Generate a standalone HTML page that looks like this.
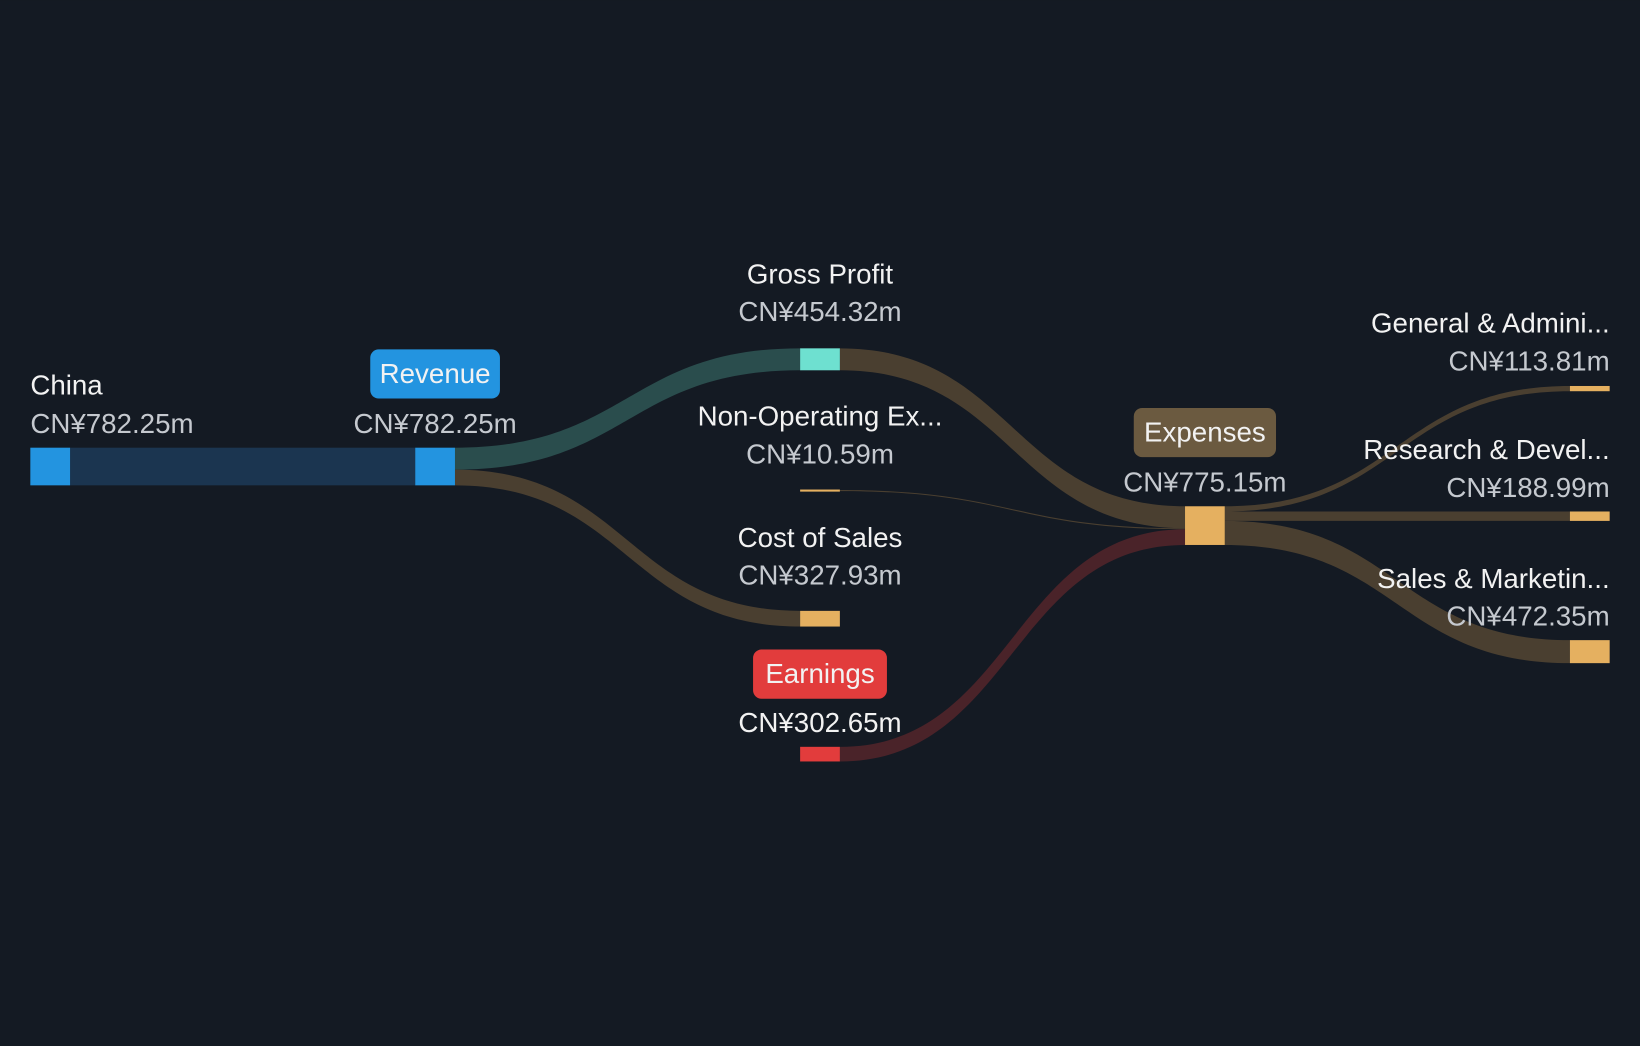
<!DOCTYPE html>
<html><head><meta charset="utf-8"><style>
html,body{margin:0;padding:0;background:#141a23;width:1640px;height:1046px;overflow:hidden}
svg{display:block}
text{font-family:"Liberation Sans",sans-serif;font-size:26.5px}
.l{fill:#f2f2f2}.v{fill:#c5c9cf}
</style></head><body>
<svg width="1640" height="1046" viewBox="0 0 1568 1000" xmlns="http://www.w3.org/2000/svg">
<rect width="1568" height="1000" fill="#141a23"/>
<rect x="67" y="428" width="330" height="36" fill="#1b3550"/>
<path d="M435,428 C600,428 600,333 765,333 L765,354 C600,354 600,449 435,449 Z" fill="#2a4d4d"/>
<path d="M435,449 C600,449 600,584 765,584 L765,599 C600,599 600,464 435,464 Z" fill="#4a3f30"/>
<path d="M803,333 C968,333 968,484 1133,484 L1133,505 C968,505 968,354 803,354 Z" fill="#4a3f30"/>
<path d="M803,468.5 C968,468.5 968,505 1133,505 L1133,506 C968,506 968,469.5 803,469.5 Z" fill="#4a3f30"/>
<path d="M803,714 C968,714 968,506 1133,506 L1133,521 C968,521 968,728 803,728 Z" fill="#4a2329"/>
<path d="M1171,484 C1336,484 1336,369 1501,369 L1501,374 C1336,374 1336,489 1171,489 Z" fill="#4a3f30"/>
<path d="M1171,489 L1501,489 L1501,498 L1171,498 Z" fill="#4a3f30"/>
<path d="M1171,498 C1336,498 1336,612 1501,612 L1501,634 C1336,634 1336,521 1171,521 Z" fill="#4a3f30"/>
<rect x="29" y="428" width="38" height="36" fill="#2394e0"/>
<rect x="397" y="428" width="38" height="36" fill="#2394e0"/>
<rect x="765" y="333" width="38" height="21" fill="#6ee0d0"/>
<rect x="765" y="468" width="38" height="2" fill="#e5b060"/>
<rect x="765" y="584" width="38" height="15" fill="#e5b060"/>
<rect x="765" y="714" width="38" height="14" fill="#e23c3c"/>
<rect x="1133" y="484" width="38" height="37" fill="#e5b060"/>
<rect x="1501" y="369" width="38" height="5" fill="#e5b060"/>
<rect x="1501" y="489" width="38" height="9" fill="#e5b060"/>
<rect x="1501" y="612" width="38" height="22" fill="#e5b060"/>
<rect x="354" y="334" width="124" height="47" rx="8" fill="#2394e0"/>
<rect x="720" y="621" width="128" height="47" rx="8" fill="#e23c3c"/>
<rect x="1084" y="390" width="136" height="47" rx="8" fill="#6b5a40"/>
<text class="l" x="29" y="377">China</text>
<text class="v" x="29" y="414">CN¥782.25m</text>
<text class="l" x="416" y="366" text-anchor="middle">Revenue</text>
<text class="v" x="416" y="414" text-anchor="middle">CN¥782.25m</text>
<g text-anchor="middle">
<text class="l" x="784" y="271">Gross Profit</text>
<text class="v" x="784" y="307">CN¥454.32m</text>
<text class="l" x="784" y="407">Non-Operating Ex...</text>
<text class="v" x="784" y="443">CN¥10.59m</text>
<text class="l" x="784" y="523">Cost of Sales</text>
<text class="v" x="784" y="559">CN¥327.93m</text>
<text class="l" x="784" y="653">Earnings</text>
<text class="l" x="784" y="700">CN¥302.65m</text>
<text class="l" x="1152" y="422">Expenses</text>
<text class="v" x="1152" y="470">CN¥775.15m</text>
</g>
<g text-anchor="end">
<text class="l" x="1539" y="318">General &amp; Admini...</text>
<text class="v" x="1539" y="354">CN¥113.81m</text>
<text class="l" x="1539" y="439">Research &amp; Devel...</text>
<text class="v" x="1539" y="475">CN¥188.99m</text>
<text class="l" x="1539" y="562">Sales &amp; Marketin...</text>
<text class="v" x="1539" y="598">CN¥472.35m</text>
</g>
</svg>
</body></html>
